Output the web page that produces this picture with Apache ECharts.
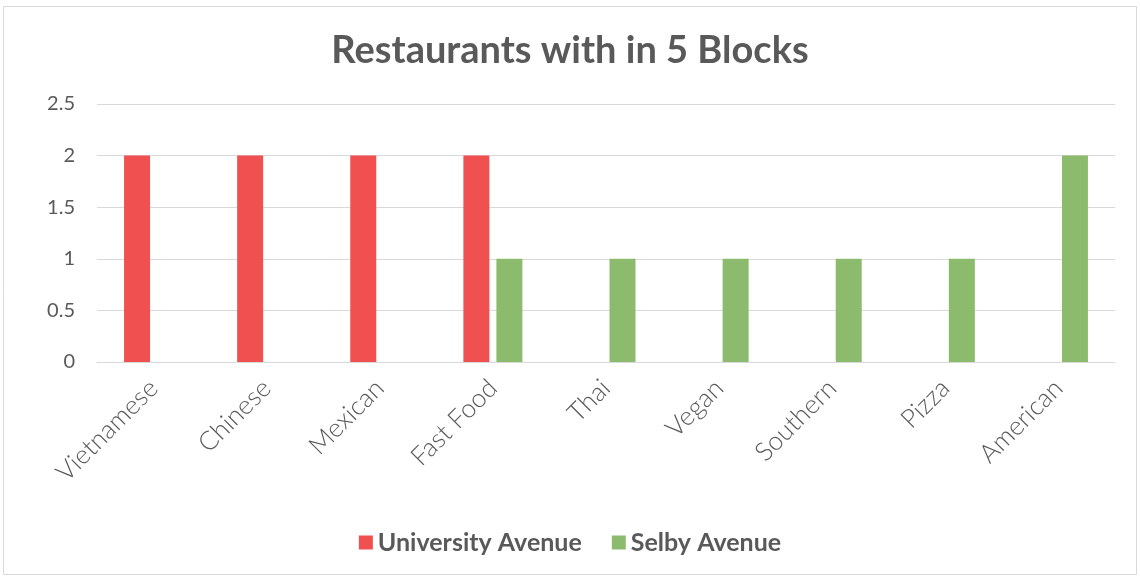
<!DOCTYPE html>
<html>
<head>
<meta charset="utf-8">
<script src="https://cdn.jsdelivr.net/npm/echarts@6/dist/echarts.min.js"></script>
<style>
  html, body { margin: 0; padding: 0; background: #fff; }
  #chart { width: 1140px; height: 578px; }
</style>
</head>
<body>
<div id="chart"></div>
<script>
// 类目和两个系列的数据
const categories = ['Vietnamese', 'Chinese', 'Mexican', 'Fast Food', 'Thai', 'Vegan', 'Southern', 'Pizza', 'American'];
const universityAve = [2, 2, 2, 2, null, null, null, null, null];
const selbyAve = [null, null, null, 1, 1, 1, 1, 1, 2];
const yTicks = [0, 0.5, 1, 1.5, 2, 2.5];

const textColor = '#595959';
const chart = echarts.init(document.getElementById('chart'), null, { renderer: 'canvas' });

chart.setOption({
  animation: false,
  color: ['#F05050', '#8DBB6E'],
  title: {
    text: 'Restaurants with in 5 Blocks',
    left: 'center',
    top: 27,
    textStyle: {
      fontFamily: 'Lato',
      fontSize: 38,
      fontWeight: 'bold',
      color: textColor
    }
  },
  // 外边框
  graphic: [{
    type: 'rect',
    shape: { x: 3.5, y: 6.5, width: 1133, height: 568 },
    style: { fill: 'none', stroke: '#D9D9D9', lineWidth: 1 },
    silent: true
  }],
  grid: {
    left: 97,
    right: 25,
    top: 104,
    bottom: 216,
    containLabel: false
  },
  legend: {
    bottom: 18,
    left: 'center',
    itemWidth: 14,
    itemHeight: 14,
    itemGap: 30,
    itemTextGap: 4,
    icon: 'rect',
    textStyle: {
      fontFamily: 'Lato',
      fontSize: 25,
      fontWeight: 'bold',
      color: textColor
    }
  },
  xAxis: {
    type: 'category',
    data: categories,
    axisTick: { show: false },
    axisLine: { lineStyle: { color: '#D9D9D9', width: 1 } },
    axisLabel: {
      rotate: 45,
      margin: 22,
      fontFamily: 'Lato',
      fontSize: 26,
      fontWeight: 300,
      color: textColor
    }
  },
  yAxis: {
    type: 'value',
    min: 0,
    max: 2.5,
    interval: 0.5,
    axisLine: { show: false },
    axisTick: { show: false },
    splitLine: { lineStyle: { color: '#D9D9D9', width: 1 } },
    axisLabel: {
      margin: 22,
      fontFamily: 'Lato',
      fontSize: 20,
      color: textColor,
      formatter: (v) => (yTicks.includes(v) ? String(v) : '')
    }
  },
  series: [
    {
      name: 'University Avenue',
      type: 'bar',
      data: universityAve,
      barWidth: 26,
      barGap: '27%'
    },
    {
      name: 'Selby Avenue',
      type: 'bar',
      data: selbyAve,
      barWidth: 26,
      barGap: '27%'
    }
  ]
});
</script>
</body>
</html>
